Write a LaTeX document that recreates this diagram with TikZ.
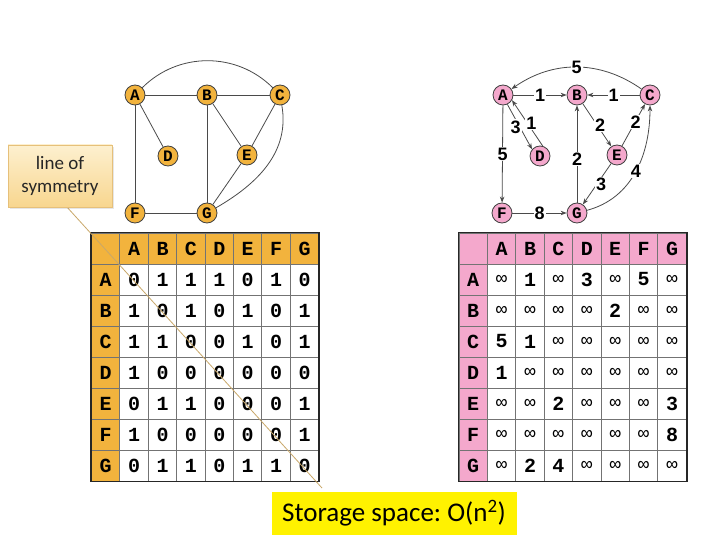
\documentclass[tikz,border=0pt]{standalone}
\usepackage{fontspec}
\setmainfont{Carlito}
\newfontfamily\monofnt{Liberation Mono}
\newfontfamily\sansfnt{Liberation Sans}
\usetikzlibrary{arrows.meta,shadows}
\definecolor{orng}{HTML}{F2B33D}
\definecolor{pnk}{HTML}{F4A8CC}
\definecolor{edgec}{HTML}{4A4A4A}
\definecolor{symc}{HTML}{C9A86A}
\definecolor{calltop}{HTML}{FDF0CF}
\definecolor{callbot}{HTML}{F8D68F}
\definecolor{callbd}{HTML}{E6C07A}
\newcommand\infx{{\monofnt\mdseries\fontsize{19}{19}\selectfont ∞}}
\frenchspacing
\begin{document}
\begin{tikzpicture}[x=1pt,y=-1pt,
 gnode/.style={circle, draw=black!75, line width=0.8pt, minimum size=20pt, inner sep=0pt, font=\monofnt\bfseries\fontsize{16}{16}\selectfont},
 onode/.style={gnode, fill=orng},
 pnode/.style={gnode, fill=pnk},
 uedge/.style={draw=edgec, line width=0.8pt},
 dedge/.style={uedge, -{Stealth[length=6pt,width=4.5pt]}},
 lbl/.style={fill=white, inner sep=1pt, font=\sansfnt\bfseries\fontsize{18}{18}\selectfont, text=black},
 cell/.style={rectangle, draw=black!55, line width=0.9pt, minimum width=28.4pt, minimum height=31pt, inner sep=0pt, fill=white, font=\monofnt\bfseries\fontsize{20}{20}\selectfont},
 ohcell/.style={cell, fill=orng},
 phcell/.style={cell, fill=pnk},
 outer/.style={draw=black!85, line width=1.8pt}
]
\useasboundingbox (0,0) rectangle (720,540);

% ---------- left graph ----------
\node[onode] (lA) at (135,95) {A};
\node[onode] (lB) at (207,95) {B};
\node[onode] (lC) at (280,95) {C};
\node[onode] (lD) at (168,156) {D};
\node[onode] (lE) at (247,155) {E};
\node[onode] (lF) at (135,213) {F};
\node[onode] (lG) at (207,213) {G};
\draw[uedge] (lA) to[out=45,in=135] (lC);
\draw[uedge] (lA) -- (lB);
\draw[uedge] (lB) -- (lC);
\draw[uedge] (lA) -- (lD);
\draw[uedge] (lA) -- (lF);
\draw[uedge] (lB) -- (lG);
\draw[uedge] (lB) -- (lE);
\draw[uedge] (lC) -- (lE);
\draw[uedge] (lE) -- (lG);
\draw[uedge] (lF) -- (lG);
\draw[uedge] (lC) to[out=-80,in=30] (lG);

% ---------- right graph ----------
\node[pnode] (rA) at (503,95) {A};
\node[pnode] (rB) at (577,95) {B};
\node[pnode] (rC) at (650,95) {C};
\node[pnode] (rD) at (540,156) {D};
\node[pnode] (rE) at (617,155) {E};
\node[pnode] (rF) at (502,213) {F};
\node[pnode] (rG) at (577,213) {G};
\draw[dedge] (rC) to[out=145,in=35] node[lbl]{5} (rA);
\draw[dedge] (rA) -- node[lbl]{1} (rB);
\draw[dedge] (rC) -- node[lbl]{1} (rB);
\draw[dedge] (rA) -- node[lbl,pos=0.5]{5} (rF);
\draw[dedge] (rA.-65) -- node[lbl,pos=0.5,xshift=-4pt]{3} (rD.140);
\draw[dedge] (rD.75) -- node[lbl,pos=0.5,xshift=4pt]{1} (rA.-30);
\draw[dedge] (rB) -- node[lbl,xshift=3pt]{2} (rE);
\draw[dedge] (rE) -- node[lbl,xshift=2pt,yshift=3pt]{2} (rC);
\draw[dedge] (rE) -- node[lbl,xshift=4pt]{3} (rG);
\draw[dedge] (rG) -- node[lbl,pos=0.45]{2} (rB);
\draw[dedge] (rG) to[out=15,in=-90] node[lbl,pos=0.5]{4} (rC);
\draw[dedge] (rF) -- node[lbl]{8} (rG);

% ---------- left table ----------
\node[ohcell] (L-0-0) at ({91.5+14.2},{233+15.5}) {};
\foreach \h [count=\j] in {A,B,C,D,E,F,G} {
  \node[ohcell] (L-0-\j) at ({91.5+28.4*(\j+0.5)},{233+15.5}) {\h};
  \node[ohcell] (L-\j-0) at ({91.5+14.2},{233+31*(\j+0.5)}) {\h};
}
\foreach \row [count=\i] in {{0,1,1,1,0,1,0},{1,0,1,0,1,0,1},{1,1,0,0,1,0,1},{1,0,0,0,0,0,0},{0,1,1,0,0,0,1},{1,0,0,0,0,0,1},{0,1,1,0,1,1,0}} {
  \foreach \v [count=\j] in \row {
    \node[cell] (L-\i-\j) at ({91.5+28.4*(\j+0.5)},{233+31*(\i+0.5)}) {\v};
  }
}
\draw[outer] (L-0-0.north west) rectangle (L-7-7.south east);

% ---------- right table ----------
\node[phcell] (R-0-0) at ({459+14.2},{233+15.5}) {};
\foreach \h [count=\j] in {A,B,C,D,E,F,G} {
  \node[phcell] (R-0-\j) at ({459+28.4*(\j+0.5)},{233+15.5}) {\h};
  \node[phcell] (R-\j-0) at ({459+14.2},{233+31*(\j+0.5)}) {\h};
}
\foreach \row [count=\i] in {{\infx,1,\infx,3,\infx,5,\infx},{\infx,\infx,\infx,\infx,2,\infx,\infx},{5,1,\infx,\infx,\infx,\infx,\infx},{1,\infx,\infx,\infx,\infx,\infx,\infx},{\infx,\infx,2,\infx,\infx,\infx,3},{\infx,\infx,\infx,\infx,\infx,\infx,8},{\infx,2,4,\infx,\infx,\infx,\infx}} {
  \foreach \v [count=\j] in \row {
    \node[cell] (R-\i-\j) at ({459+28.4*(\j+0.5)},{233+31*(\i+0.5)}) {\v};
  }
}
\draw[outer] (R-0-0.north west) rectangle (R-7-7.south east);

% ---------- line of symmetry ----------
\coordinate (symA) at (66,206);
\coordinate (symB) at (322,488);
\draw[symc, line width=0.8pt] (symA) -- (symB);
\node[draw=callbd, line width=0.8pt, top color=calltop, bottom color=callbot,
      minimum width=104pt, minimum height=62pt, align=center, text=black!85,
      font=\fontsize{19}{23}\selectfont,
      drop shadow={opacity=0.2, shadow xshift=1.5pt, shadow yshift=-2pt}] (sym) at (60,176) {line of\\symmetry};

% ---------- storage ----------
\node[fill=yellow, minimum width=245pt, minimum height=43pt, inner sep=0pt,
      font=\fontsize{27}{27}\selectfont] (stor) at (394,513) {Storage space: O(n\textsuperscript{2})};
\end{tikzpicture}
\end{document}
